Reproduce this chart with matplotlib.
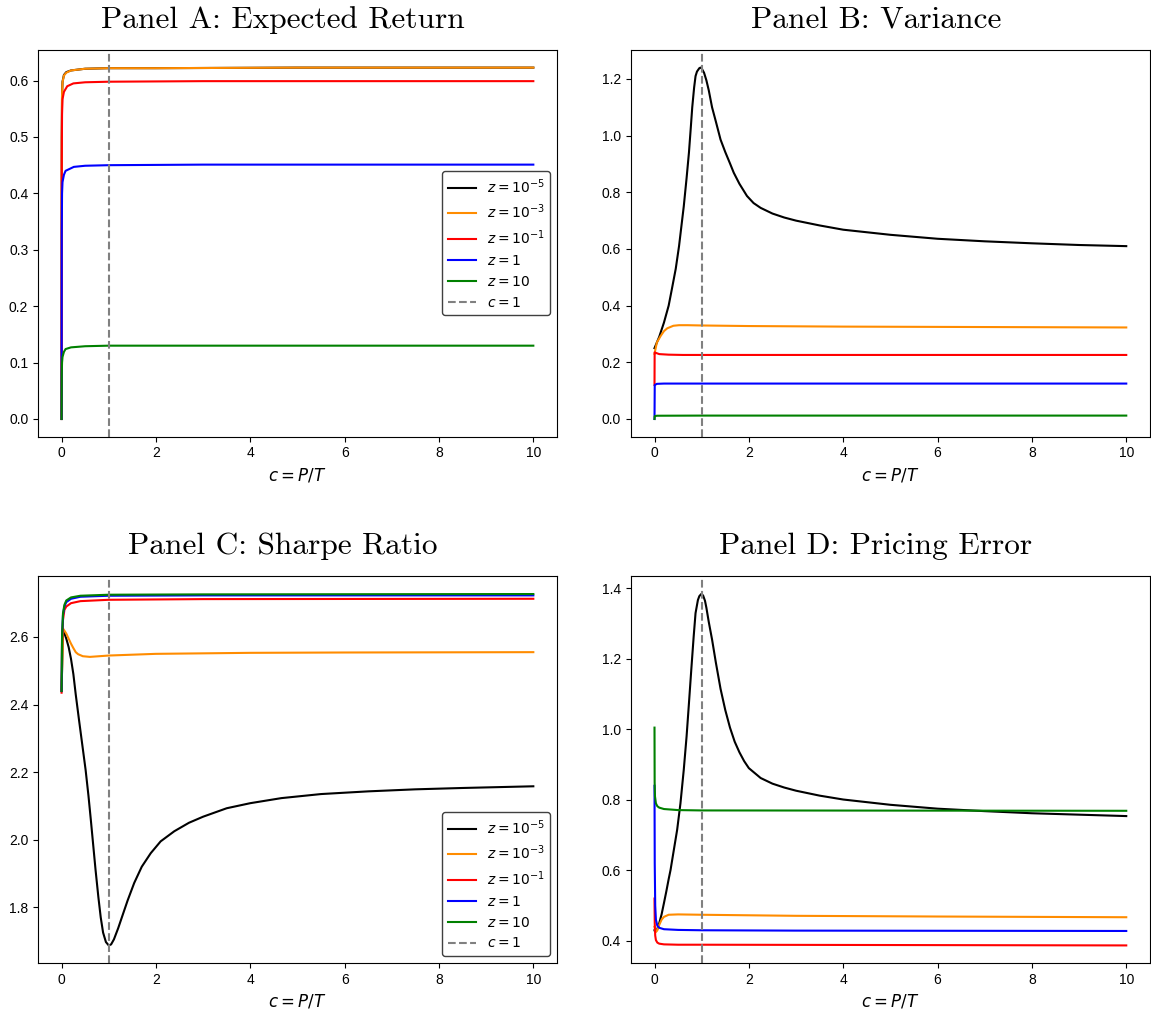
import matplotlib
matplotlib.use("Agg")
import matplotlib.pyplot as plt

plt.rcParams['font.family'] = ['Liberation Sans', 'DejaVu Sans']
plt.rcParams['mathtext.fontset'] = 'dejavusans'

labels = [r'$z=10^{-5}$', r'$z=10^{-3}$', r'$z=10^{-1}$', r'$z=1$', r'$z=10$']
colors = ['black', 'darkorange', 'red', 'blue', 'green']
titles = ['Panel A: Expected Return', 'Panel B: Variance',
          'Panel C: Sharpe Ratio', 'Panel D: Pricing Error']

# Panel A: expected return
ret_c = [
    [0, 0.004, 0.01, 0.02, 0.05, 0.1, 0.2, 0.5, 1, 2, 5, 10],
    [0, 0.004, 0.01, 0.02, 0.05, 0.1, 0.2, 0.5, 1, 2, 5, 10],
    [0, 0.004, 0.01, 0.02, 0.05, 0.12, 0.25, 0.5, 1, 3, 10],
    [0, 0.004, 0.01, 0.02, 0.05, 0.085, 0.26, 0.5, 1, 3, 10],
    [0, 0.004, 0.01, 0.02, 0.05, 0.085, 0.2, 0.5, 1, 3, 10],
]
ret_v = [
    [0.0, 0.50, 0.575, 0.598, 0.610, 0.615, 0.618, 0.621, 0.622, 0.622, 0.623, 0.623],
    [0.0, 0.50, 0.574, 0.597, 0.609, 0.614, 0.618, 0.621, 0.622, 0.622, 0.623, 0.623],
    [0.0, 0.46, 0.54, 0.567, 0.580, 0.590, 0.595, 0.597, 0.598, 0.599, 0.599],
    [0.0, 0.33, 0.40, 0.42, 0.433, 0.440, 0.447, 0.449, 0.450, 0.451, 0.451],
    [0.0, 0.08, 0.100, 0.110, 0.119, 0.124, 0.127, 0.129, 0.130, 0.130, 0.130],
]

# Panel B: variance
var_c = [
    [0, 0.1, 0.2, 0.3, 0.37, 0.45, 0.52, 0.57, 0.62, 0.68, 0.73, 0.77, 0.8, 0.84, 0.87,
     0.9, 0.95, 0.975, 1.0, 1.05, 1.1, 1.15, 1.22, 1.3, 1.4, 1.5, 1.6, 1.68, 1.8, 1.96,
     2.1, 2.25, 2.5, 2.75, 3.0, 3.5, 4, 5, 6, 7, 8, 9, 10],
    [0, 0.05, 0.13, 0.2, 0.27, 0.4, 0.52, 0.7, 1, 2, 4, 6, 8, 10],
    [0, 0.003, 0.05, 0.1, 0.3, 0.6, 1, 10],
    [0, 0.005, 0.05, 0.2, 1, 10],
    [0, 0.005, 0.05, 1, 10],
]
var_v = [
    [0.25, 0.29, 0.34, 0.40, 0.46, 0.53, 0.61, 0.68, 0.75, 0.85, 0.94, 1.03, 1.10, 1.17, 1.21,
     1.226, 1.238, 1.24, 1.237, 1.222, 1.195, 1.16, 1.10, 1.05, 0.986, 0.942, 0.902, 0.869, 0.83, 0.787,
     0.762, 0.745, 0.725, 0.711, 0.700, 0.683, 0.668, 0.650, 0.636, 0.627, 0.620, 0.614, 0.610],
    [0.23, 0.27, 0.293, 0.31, 0.32, 0.329, 0.331, 0.331, 0.330, 0.328, 0.326, 0.325, 0.324, 0.323],
    [0.12, 0.235, 0.232, 0.229, 0.227, 0.226, 0.226, 0.226],
    [0.0, 0.12, 0.124, 0.125, 0.125, 0.125],
    [0.0, 0.010, 0.0115, 0.012, 0.012],
]

# Panel C: Sharpe ratio
sr_c = [
    [0, 0.03, 0.05, 0.1, 0.15, 0.2, 0.25, 0.3, 0.37, 0.44, 0.51, 0.57, 0.62, 0.67, 0.72, 0.78,
     0.83, 0.88, 0.94, 1.0, 1.05, 1.11, 1.2, 1.29, 1.4, 1.54, 1.7, 1.89, 2.1, 2.39, 2.7,
     3.0, 3.5, 4, 4.66, 5.5, 6.5, 7.5, 8.5, 10],
    [0, 0.03, 0.1, 0.15, 0.2, 0.25, 0.3, 0.35, 0.45, 0.6, 1, 2, 4, 6, 10],
    [0, 0.01, 0.03, 0.06, 0.1, 0.2, 0.4, 1, 3, 10],
    [0, 0.01, 0.03, 0.06, 0.1, 0.2, 0.4, 1, 3, 10],
    [0, 0.01, 0.03, 0.06, 0.1, 0.2, 0.4, 1, 3, 10],
]
sr_v = [
    [2.44, 2.62, 2.615, 2.595, 2.57, 2.535, 2.49, 2.43, 2.354, 2.28, 2.206, 2.13, 2.059, 1.985, 1.911, 1.83,
     1.77, 1.725, 1.697, 1.687, 1.69, 1.705, 1.738, 1.775, 1.82, 1.872, 1.92, 1.96, 1.995, 2.025, 2.05,
     2.068, 2.093, 2.108, 2.123, 2.135, 2.143, 2.149, 2.153, 2.158],
    [2.44, 2.625, 2.61, 2.595, 2.58, 2.567, 2.555, 2.549, 2.543, 2.541, 2.545, 2.550, 2.553, 2.554, 2.555],
    [2.435, 2.58, 2.65, 2.68, 2.69, 2.70, 2.706, 2.710, 2.712, 2.713],
    [2.44, 2.60, 2.665, 2.69, 2.703, 2.713, 2.719, 2.722, 2.723, 2.723],
    [2.44, 2.60, 2.67, 2.695, 2.708, 2.717, 2.722, 2.725, 2.726, 2.727],
]

# Panel D: pricing error
pe_c = [
    [0, 0.05, 0.1, 0.15, 0.2, 0.25, 0.3, 0.34, 0.4, 0.48, 0.55, 0.62, 0.68, 0.73, 0.78, 0.83,
     0.87, 0.92, 0.95, 0.99, 1.03, 1.07, 1.1, 1.15, 1.22, 1.3, 1.4, 1.5, 1.6, 1.7, 1.8, 1.9,
     2.0, 2.25, 2.5, 2.75, 3.0, 3.5, 4, 5, 6, 7, 8, 9, 10],
    [0, 0.03, 0.06, 0.1, 0.15, 0.2, 0.3, 0.5, 1, 3, 6, 10],
    [0, 0.005, 0.015, 0.03, 0.06, 0.1, 0.2, 0.5, 1, 10],
    [0, 0.005, 0.015, 0.03, 0.06, 0.1, 0.2, 0.5, 1, 3, 10],
    [0, 0.003, 0.01, 0.03, 0.06, 0.1, 0.2, 0.5, 1, 10],
]
pe_v = [
    [0.43, 0.43, 0.45, 0.475, 0.507, 0.54, 0.575, 0.601, 0.65, 0.715, 0.79, 0.885, 0.98, 1.074, 1.17, 1.263,
     1.33, 1.367, 1.378, 1.384, 1.38, 1.365, 1.345, 1.305, 1.255, 1.19, 1.115, 1.055, 1.005, 0.965, 0.935, 0.91,
     0.89, 0.862, 0.846, 0.835, 0.826, 0.812, 0.801, 0.786, 0.775, 0.768, 0.762, 0.758, 0.754],
    [0.44, 0.425, 0.43, 0.445, 0.46, 0.468, 0.474, 0.475, 0.474, 0.471, 0.469, 0.467],
    [0.52, 0.45, 0.415, 0.402, 0.395, 0.392, 0.390, 0.389, 0.389, 0.387],
    [0.84, 0.62, 0.50, 0.46, 0.443, 0.437, 0.433, 0.431, 0.430, 0.429, 0.428],
    [1.005, 0.85, 0.81, 0.79, 0.782, 0.778, 0.774, 0.771, 0.770, 0.769],
]

panels = [(ret_c, ret_v), (var_c, var_v), (sr_c, sr_v), (pe_c, pe_v)]
legend_loc = {0: 'center right', 2: 'lower right'}

fig, axes = plt.subplots(2, 2, figsize=(11.51, 10.09), dpi=100)
fig.subplots_adjust(left=0.033, right=0.999, top=0.9504, bottom=0.0456,
                    wspace=0.1426, hspace=0.362)

for i, ax in enumerate(axes.flat):
    cs, vs = panels[i]
    for c, v, col, lab in zip(cs, vs, colors, labels):
        ax.plot(c, v, color=col, label=lab)
    ax.axvline(1, color='gray', linestyle='--', label=r'$c=1$')
    ax.set_title(titles[i], family='cmr10', fontsize=22.6, pad=16, x=0.472)
    ax.set_xlabel(r'$c=P/T$', fontsize=12)
    if i in legend_loc:
        leg = ax.legend(loc=legend_loc[i], fontsize=10, framealpha=1)
        leg.get_frame().set_edgecolor('0.25')

fig.savefig('out.png', dpi=100)
